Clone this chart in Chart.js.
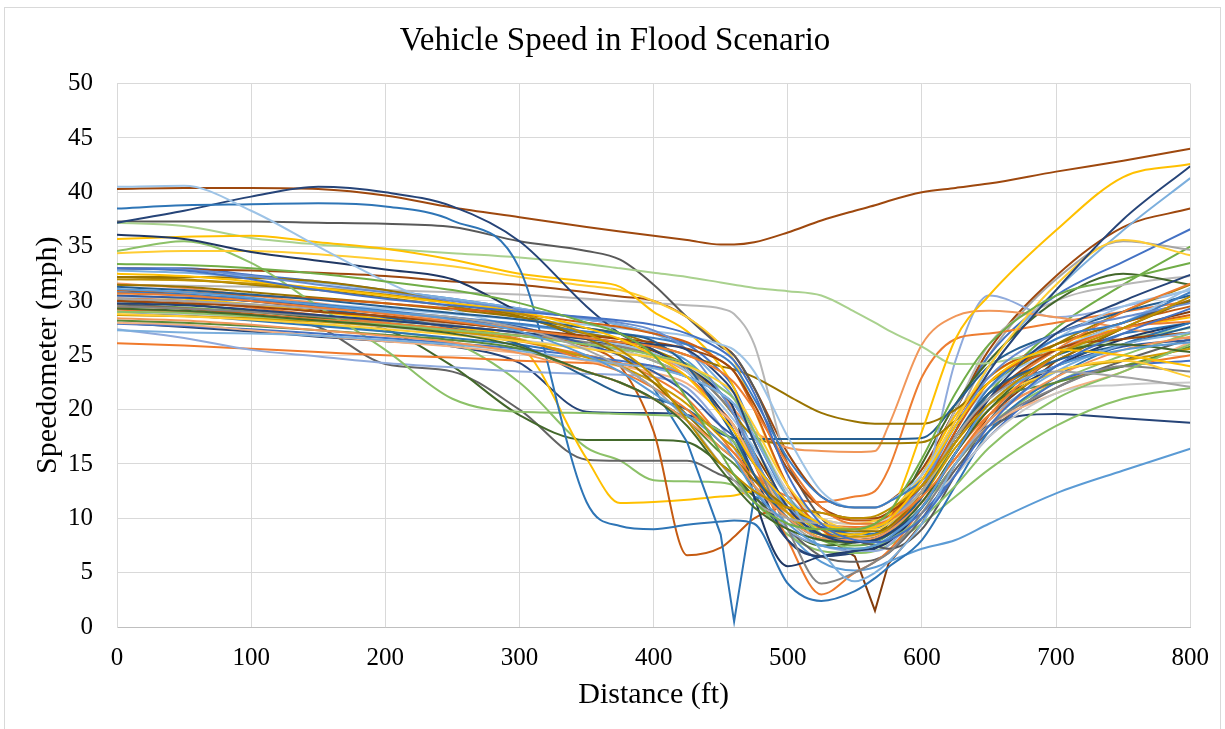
<!DOCTYPE html>
<html>
<head>
<meta charset="utf-8">
<title>Vehicle Speed in Flood Scenario</title>
<script src="https://cdn.jsdelivr.net/npm/chart.js@4.4.1/dist/chart.umd.min.js"></script>
<style>
  html, body { margin: 0; padding: 0; background: #fff; overflow: hidden; }
  #frame { position: absolute; left: 4px; top: 7px; width: 1215px; height: 740px; border: 1px solid #d9d9d9; }
  #chart { position: absolute; left: 0; top: 0; }
</style>
</head>
<body>
<div id="frame"></div>
<canvas id="chart" width="1225" height="729"></canvas>
<script>
// distance along the road (ft), shared by every run
const dist = [0, 50, 100, 150, 200, 250, 300, 350, 375, 400, 425, 450, 460, 475, 500, 525, 550, 565, 575, 600, 625, 650, 700, 750, 800];

// speedometer readings (mph) per vehicle run
const g01 = [33.4,33.3,33.0,32.5,31.8,31.0,29.8,28.0,27.0,25.0,21.0,16.0,14.0,11.5,9.5,9.0,9.0,9.5,10.5,15.5,21.5,26.0,30.5,32.0,33.5];
const g02 = [33.0,32.8,32.0,31.0,30.2,29.6,29.0,28.5,28.2,27.8,27.0,25.5,24.5,21.5,14.0,9.5,8.0,7.8,8.0,10.0,14.0,18.5,24.0,27.0,29.3];
const g03 = [32.5,32.3,31.8,31.2,30.5,29.8,29.0,27.5,26.5,25.0,23.0,19.5,18.0,15.0,11.5,9.5,9.0,9.2,9.8,13.5,18.5,22.5,25.5,25.0,24.0];
const g04 = [32.0,31.9,31.6,31.2,30.6,29.8,28.8,27.0,25.5,23.0,19.0,15.0,14.0,12.5,11.0,10.5,10.0,10.2,10.8,13.0,17.0,20.5,25.0,27.5,30.4];
const g05 = [31.1,30.8,30.3,29.6,29.0,28.3,27.2,25.0,23.5,21.5,19.5,17.0,15.5,12.5,9.5,7.5,7.2,7.5,8.2,11.0,16.0,20.5,24.0,25.5,26.2];
const g06 = [30.7,30.5,30.0,29.4,28.8,28.1,27.4,26.6,26.2,25.8,25.0,23.5,22.5,20.0,15.0,11.0,9.5,9.5,9.8,12.0,15.5,19.5,25.0,27.5,28.1];
const g07 = [30.2,30.0,29.7,29.3,28.9,28.5,27.5,25.5,24.0,22.0,19.0,15.0,13.5,11.5,10.0,9.5,9.0,9.2,9.8,12.5,17.5,21.0,23.5,23.0,22.1];
const g08 = [29.8,29.6,29.2,28.7,28.2,27.7,27.1,26.5,26.2,26.0,25.5,23.0,21.5,17.0,11.0,8.5,7.8,8.0,8.6,11.0,16.0,21.0,27.0,30.0,32.4];
const g09 = [29.3,29.1,28.7,28.2,27.7,27.0,25.8,23.5,22.5,21.0,18.5,14.5,13.0,11.0,9.0,8.0,7.8,8.0,8.5,11.5,16.0,20.0,25.0,26.0,25.3];
const g10 = [28.8,28.6,28.3,27.9,27.4,26.9,26.3,25.6,25.2,24.8,24.0,22.5,21.5,18.5,13.0,10.0,9.0,9.0,9.5,12.5,17.0,20.5,23.5,24.5,23.0];
const g11 = [28.4,28.2,27.8,27.3,26.8,26.2,25.2,23.5,22.5,21.0,19.0,16.5,15.5,13.0,10.0,8.2,8.0,8.2,8.8,11.5,15.5,19.0,23.0,25.5,26.7];
const g12 = [27.3,27.1,27.0,26.8,26.4,26.0,25.4,24.6,24.2,23.8,23.0,21.5,20.5,17.5,12.0,7.0,4.2,5.0,6.0,9.5,15.0,19.0,23.5,26.0,27.1];
const g13 = [31.3,31.0,30.6,30.1,29.5,28.9,28.3,27.5,27.0,26.3,24.0,19.5,17.5,14.0,10.0,8.5,8.0,8.2,8.8,12.0,17.5,21.5,24.5,26.0,27.6];
const g14 = [30.0,29.8,29.5,29.0,28.6,28.0,27.4,26.8,26.5,26.2,25.6,24.5,23.5,20.5,14.5,11.0,10.0,10.0,10.5,13.0,17.0,21.0,25.5,26.5,27.1];
const g15 = [33.0,32.9,32.3,31.5,30.8,30.0,29.2,28.4,28.0,27.3,25.5,21.5,19.5,15.5,11.0,9.5,9.0,9.2,9.8,13.0,18.5,23.0,27.0,28.5,29.8];
const g16 = [32.2,32.2,32.1,31.8,31.0,29.8,28.6,26.5,25.0,22.5,19.5,16.5,15.5,13.5,11.0,9.5,8.8,8.8,9.2,12.5,17.5,21.5,24.5,27.5,30.1];
const g17 = [29.0,28.9,28.6,28.2,27.8,27.3,26.8,26.0,25.6,25.0,24.2,22.0,21.0,18.0,12.0,8.5,7.2,7.5,8.0,10.0,13.0,16.5,21.0,23.5,26.0];
const g18 = [30.5,30.3,30.0,29.5,29.0,28.4,27.6,26.0,25.0,23.5,21.5,18.5,17.5,15.0,11.5,9.2,8.8,9.0,9.5,12.5,17.0,21.0,24.0,25.8,26.4];
const g19 = [31.0,30.8,30.5,30.2,29.8,29.3,28.8,28.0,27.6,27.0,26.2,24.5,23.5,20.0,13.0,9.0,7.8,8.0,8.8,12.5,18.0,22.5,25.5,27.5,28.7];
const g20 = [29.5,29.3,29.0,28.6,28.2,27.7,27.1,26.2,25.8,25.0,23.8,21.0,19.5,15.5,9.0,4.0,5.0,6.0,6.8,10.5,15.0,18.5,22.0,24.0,23.5];
const g21 = [28.7,28.6,28.4,28.1,27.7,27.2,26.4,24.8,24.0,22.5,20.5,17.5,16.5,14.0,10.5,8.5,8.3,8.5,9.0,12.0,16.5,20.0,23.5,24.5,25.6];
const g22 = [30.8,30.6,30.2,29.7,29.1,28.5,27.9,27.2,27.0,26.6,26.0,25.0,24.0,21.0,15.5,12.0,11.0,11.0,11.5,13.5,17.5,22.0,26.5,28.0,30.8];
const g23 = [28.2,28.0,27.7,27.3,26.9,26.4,25.6,23.5,22.5,21.0,19.0,16.0,15.0,13.0,10.0,8.2,8.0,8.2,8.8,12.0,17.0,20.5,22.5,24.0,25.8];
const g24 = [29.0,28.8,28.5,28.1,27.6,27.0,26.4,25.7,25.3,24.8,24.0,22.0,21.0,18.0,12.5,10.0,9.5,9.5,10.0,11.5,14.0,17.5,21.5,22.3,22.5];
const g25 = [28.0,27.8,27.3,26.8,26.3,25.8,25.2,24.5,24.0,23.4,22.4,19.8,18.5,15.0,10.5,8.5,8.2,8.4,9.0,11.5,15.5,18.5,21.5,23.5,26.2];
const g26 = [30.4,30.3,30.0,29.7,29.3,28.8,28.3,27.8,27.5,27.2,26.8,26.0,25.5,23.5,17.5,12.5,11.0,11.0,11.5,14.0,18.5,22.0,25.5,28.0,31.2];
const g27 = [29.2,29.0,28.7,28.3,27.9,27.4,26.5,24.5,23.5,22.0,20.0,17.0,16.0,13.5,10.5,9.5,9.2,9.4,10.0,13.0,17.5,21.0,25.5,29.0,31.6];
const g28 = [27.9,27.7,27.4,27.0,26.6,26.1,25.6,24.9,24.5,24.0,23.0,21.5,20.5,17.5,12.0,9.0,8.0,8.0,8.5,10.5,14.0,17.5,22.5,24.0,24.5];

const v02 = [40.5,40.6,38.3,35.0,31.8,29.2,27.6,26.5,26.0,25.2,23.5,20.5,19.0,16.5,12.0,9.5,8.8,9.0,9.5,12.0,17.5,22.0,26.5,29.5,31.0];
const v03 = [38.5,38.8,38.9,39.0,38.7,37.4,33.0,11.5,9.3,9.0,9.4,9.7,9.8,9.5,4.0,2.4,3.3,4.5,5.5,8.0,13.0,18.0,23.0,26.0,28.0];
const v04 = [37.2,38.3,39.6,40.5,40.0,38.7,35.5,29.5,27.0,25.5,23.5,20.0,18.0,14.0,8.0,6.5,7.0,7.5,8.0,12.0,18.0,23.5,31.0,37.5,42.4];
const v05 = [36.1,35.7,34.5,33.7,32.9,32.0,29.0,26.5,25.8,25.0,24.0,21.5,20.0,12.0,5.6,6.5,7.0,7.3,7.8,11.0,16.0,20.0,24.0,26.5,28.0];
const v06 = [35.7,35.9,36.0,35.4,34.8,33.8,32.5,31.8,31.3,29.0,27.2,24.0,22.0,17.0,11.0,9.0,8.5,9.0,10.0,18.0,26.5,30.5,36.5,41.4,42.6];
const v07 = [34.4,34.6,34.6,34.3,33.8,33.2,32.2,31.4,31.0,30.0,28.5,26.0,24.5,20.0,13.0,10.0,9.5,9.8,10.5,14.0,19.0,24.0,31.5,35.6,34.2];
const v08 = [37.2,36.9,35.8,35.2,34.8,34.4,34.0,33.4,33.0,32.6,32.2,31.7,31.5,31.2,30.9,30.5,29.0,28.0,27.3,25.8,24.2,24.3,25.5,26.5,27.5];
const v09 = [34.6,35.5,33.5,29.5,25.5,21.0,19.8,19.7,19.6,19.5,19.3,18.0,17.0,14.0,10.0,8.5,8.0,8.2,8.5,11.0,15.0,18.5,22.5,25.0,27.0];
const v10 = [37.3,37.3,37.3,37.2,37.1,36.8,35.5,34.6,33.8,31.5,28.5,25.8,25.0,22.0,15.0,10.0,8.0,7.5,7.2,9.0,14.0,19.0,25.0,28.0,30.0];
const v11 = [31.0,30.6,30.0,29.3,28.5,27.5,26.0,23.0,21.5,21.0,20.0,17.8,17.4,17.3,17.3,17.3,17.3,17.3,17.3,17.4,20.5,24.0,27.0,29.0,30.5];
const v12 = [31.5,31.3,30.8,30.3,29.8,29.2,28.5,27.5,27.0,26.0,25.0,24.0,23.7,23.0,21.3,19.7,18.9,18.7,18.7,18.7,20.0,22.5,26.0,28.0,30.0];
const v13 = [32.2,32.0,31.5,31.0,30.3,29.5,28.5,27.0,26.5,25.5,24.0,21.0,19.5,17.5,16.9,16.9,16.9,16.9,16.9,17.0,19.0,22.0,26.0,29.0,31.5];
const v14 = [31.6,31.2,30.5,29.8,29.0,28.3,27.5,26.5,26.0,25.0,23.5,21.5,20.0,18.0,16.5,16.2,16.1,16.2,18.5,26.0,28.6,29.1,28.5,27.5,26.5];
const v15 = [30.3,30.0,29.4,28.7,28.0,27.2,26.3,25.0,24.3,23.0,21.0,17.5,16.0,14.0,12.0,11.5,12.0,12.5,14.5,23.0,26.5,27.0,28.0,29.0,30.0];
const v16 = [27.4,26.6,25.5,24.9,24.3,23.9,23.5,23.3,23.2,23.0,22.0,18.5,16.5,13.0,9.0,7.5,7.0,7.0,7.5,12.0,24.5,30.5,28.5,29.5,31.0];
const v17 = [26.1,25.9,25.6,25.3,25.0,24.8,24.5,24.3,24.2,24.0,23.0,20.0,18.5,15.0,8.0,3.0,5.0,6.0,7.0,11.0,16.0,19.5,22.5,24.0,25.0];
const v18 = [29.0,28.7,28.2,27.7,27.2,26.6,26.0,25.0,24.2,22.0,17.0,8.5,0.5,12.0,11.0,9.0,8.5,8.6,9.0,12.5,17.5,21.5,25.0,27.0,28.0];
const v19 = [29.5,29.3,28.8,28.3,27.8,27.3,26.8,25.8,24.0,18.0,6.6,7.3,8.3,10.0,11.0,10.5,9.8,9.8,10.2,13.5,19.0,23.0,26.0,28.0,29.5];
const v20 = [30.5,30.2,29.7,29.0,28.3,27.6,26.0,15.5,11.4,11.5,11.7,12.0,12.1,12.5,10.0,8.5,8.5,9.0,9.8,14.0,19.5,23.0,26.0,27.5,28.5];
const v21 = [30.0,29.7,29.1,28.4,27.4,24.0,19.5,17.2,17.2,17.2,17.0,15.0,14.0,12.0,9.0,7.5,7.8,8.5,9.5,15.0,20.5,24.5,30.0,32.5,31.5];
const v22 = [29.7,29.3,28.7,27.6,24.2,23.5,20.0,15.4,15.3,15.3,15.3,14.0,13.5,12.0,9.0,6.5,6.0,6.2,6.8,10.0,14.5,18.0,22.0,24.5,26.5];
const v23 = [29.3,29.0,28.5,27.8,27.2,26.2,22.5,16.5,15.3,13.5,13.4,13.3,13.0,11.5,8.5,7.0,6.8,7.0,7.5,9.5,12.0,14.5,18.5,21.0,22.0];
const v24 = [31.5,31.4,31.3,31.2,31.0,30.8,30.6,30.2,30.0,29.8,29.6,29.3,28.8,26.0,15.0,11.0,10.0,10.0,10.5,14.0,20.0,26.0,30.0,31.5,32.3];
const v25 = [28.0,27.6,27.2,26.7,26.3,25.8,24.3,19.8,19.7,19.7,19.5,18.0,17.0,13.0,8.0,6.5,6.8,7.2,8.0,11.0,15.0,18.5,19.6,19.2,18.8];
const v26 = [30.8,30.5,30.0,29.5,29.0,28.4,27.8,27.0,26.5,25.8,24.5,21.5,20.0,16.0,9.0,6.0,5.2,5.5,6.0,7.2,8.0,9.5,12.3,14.4,16.4];
const v27 = [32.8,32.6,32.2,31.7,31.0,30.2,29.3,28.3,27.8,27.0,25.5,22.5,21.0,17.0,11.0,8.5,7.8,8.0,8.5,12.0,18.0,24.0,31.0,36.5,41.3];
const v28 = [33.0,32.9,32.8,32.6,32.3,31.8,31.5,30.8,30.4,30.0,28.5,26.0,25.0,22.0,16.0,12.0,11.0,11.0,11.5,14.5,20.0,25.5,32.3,36.8,38.5];
const v29 = [33.0,33.0,32.4,31.8,31.0,30.2,29.3,28.3,27.8,27.0,26.0,23.5,22.0,18.0,12.0,9.5,9.0,9.2,9.8,14.0,20.0,25.0,30.5,33.6,36.6];
const v30 = [30.3,30.0,29.6,29.0,28.4,27.8,27.0,26.0,25.5,24.5,23.0,20.0,18.5,15.0,10.0,8.0,8.0,8.5,9.5,13.0,19.0,25.0,32.0,35.5,34.7];
const v31 = [29.7,29.4,29.0,28.5,28.0,27.4,26.8,26.0,25.5,24.5,23.0,20.0,18.5,15.5,10.5,8.0,7.5,7.8,8.5,12.0,17.0,21.5,27.5,31.5,35.0];
const v32 = [30.2,30.0,29.6,29.1,28.6,28.0,27.4,26.6,26.2,25.4,24.2,21.5,20.0,16.0,11.0,8.5,6.5,1.5,5.8,9.5,15.0,19.5,24.5,27.5,29.0];
const v01 = [40.3,40.4,40.4,40.3,39.7,38.6,37.7,36.8,36.4,36.0,35.6,35.2,35.2,35.4,36.3,37.4,38.3,38.8,39.2,40.0,40.4,40.8,41.9,42.9,44.0];

const runs = [g01,g02,g03,g04,g05,g06,g07,g08,g09,g10,g11,g12,g13,g14,g15,g16,g17,g18,g19,g20,g21,g22,g23,g24,g25,g26,g27,g28,
              v02,v03,v04,v05,v06,v07,v08,v09,v10,v11,v12,v13,v14,v15,v16,v17,v18,v19,v20,v21,v22,v23,v24,v25,v26,v27,v28,v29,v30,v31,v32,v01];

const runColors = ['#70AD47','#4472C4','#FFC000','#BF9000','#5B9BD5','#ED7D31','#A5A5A5','#264478','#43682B','#FFCD33','#F1975A','#7CAFDD','#255E91','#9E480E',
                   '#698ED0','#997300','#8CC168','#335AA1','#D26012','#848484','#CC9A00','#3C7DC4','#5A8A39','#C9C9C9','#F4B183','#9DC3E6','#ED7D31','#4472C4',
                   '#9DC3E6','#2E75B6','#264478','#203864','#FFC000','#FFCD33','#A9D18E','#8CC168','#595959','#255E91','#997300','#A07D00','#F1975A','#ED7D31',
                   '#8FAADC','#F07A2C','#2E75B6','#C55A11','#FFC000','#43682B','#636363','#8CC168','#B7B7B7','#264478','#5B9BD5','#7CAFDD','#9E480E','#4472C4',
                   '#A5A5A5','#70AD47','#843C0C','#9E480E'];

// runs with a sharp V at the bottom are drawn with straight segments
const sharpRuns = new Set([v18, v32]);

const serif = "'Liberation Serif', 'Times New Roman', serif";

const datasets = runs.map((vals, i) => ({
    data: vals,
    borderColor: runColors[i],
    borderWidth: 2,
    pointRadius: 0,
    fill: false,
    cubicInterpolationMode: sharpRuns.has(vals) ? 'default' : 'monotone',
    tension: 0
}));

new Chart(document.getElementById('chart'), {
    type: 'line',
    data: { labels: dist, datasets },
    options: {
        responsive: false,
        animation: false,
        devicePixelRatio: 1,
        layout: { padding: { left: 5, right: 0, top: 7, bottom: 0 } },
        plugins: {
            legend: { display: false },
            tooltip: { enabled: false },
            title: {
                display: true,
                text: 'Vehicle Speed in Flood Scenario',
                color: '#000',
                font: { family: serif, size: 33, weight: 'normal' },
                padding: { top: 15, bottom: 22 }
            }
        },
        scales: {
            x: {
                type: 'linear',
                min: 0, max: 800,
                afterFit: s => { s.height = 102; },
                ticks: { stepSize: 100, color: '#000', padding: 16, font: { family: serif, size: 25 } },
                grid: { color: '#d9d9d9', drawTicks: false },
                border: { color: '#bfbfbf' },
                title: { display: true, text: 'Distance (ft)', color: '#000', font: { family: serif, size: 30 }, padding: { top: 0, bottom: 16 } }
            },
            y: {
                min: 0, max: 50,
                afterFit: s => { s.width = 112; },
                ticks: { stepSize: 5, color: '#000', padding: 24, font: { family: serif, size: 25 } },
                grid: { color: '#d9d9d9', drawTicks: false },
                border: { color: '#d9d9d9' },
                title: { display: true, text: 'Speedometer (mph)', color: '#000', font: { family: serif, size: 30 }, padding: { top: 25, bottom: 0 } }
            },
            // empty strip on the right so the plot ends at 800 ft like the original
            yPad: {
                position: 'right',
                afterFit: s => { s.width = 30; },
                ticks: { display: false },
                grid: { display: false, drawTicks: false },
                border: { display: false }
            }
        }
    }
});
</script>
</body>
</html>
